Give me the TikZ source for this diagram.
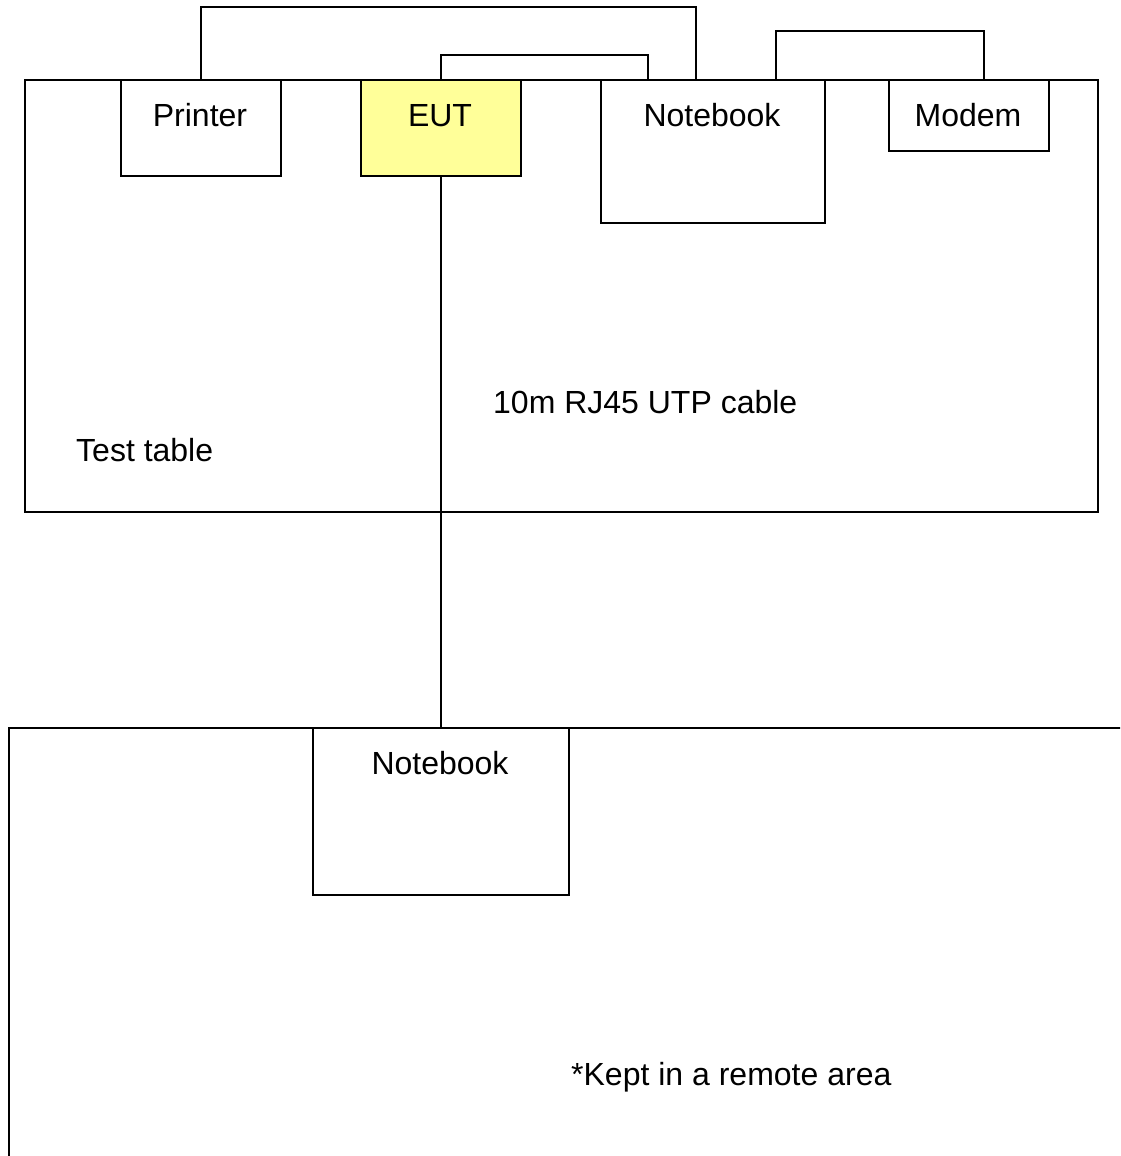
\documentclass[tikz,border=0pt]{standalone}
\usepackage{fontspec}
\setmainfont{Liberation Sans}
\definecolor{eutyellow}{HTML}{FFFF99}
\begin{document}
\begin{tikzpicture}[x=1pt,y=-1pt,
  box/.style={draw=black,line width=1.5pt,fill=white,rectangle,inner sep=0pt,anchor=north west},
  txt/.style={font=\fontsize{32}{38}\selectfont,inner sep=0pt,anchor=base},
  ltxt/.style={txt,anchor=base west},
  wire/.style={draw=black,line width=1.5pt}]
\useasboundingbox (0,0) rectangle (1120,1156);
\clip (0,0) rectangle (1120,1156);
\fill[white] (0,0) rectangle (1120,1156);
% test table
\node[box,minimum width=1073pt,minimum height=432pt] (table) at (24,79) {};
% remote area
\node[box,minimum width=1140pt,minimum height=460pt] (remote) at (8,727) {};
% devices
\node[box,minimum width=160pt,minimum height=96pt] (printer) at (120,79) {};
\node[box,fill=eutyellow,minimum width=160pt,minimum height=96pt] (eut) at (360,79) {};
\node[box,minimum width=224pt,minimum height=143pt] (nbA) at (600,79) {};
\node[box,minimum width=160pt,minimum height=71pt] (modem) at (888,79) {};
\node[box,minimum width=256pt,minimum height=167pt] (nbB) at (312,727) {};
% labels
\node[txt] (printerlbl) at (200,126) {Printer};
\node[txt] (eutlbl) at (440,126) {EUT};
\node[txt] (nbAlbl) at (712,126) {Notebook};
\node[txt] (modemlbl) at (968,126) {Modem};
\node[txt] (nbBlbl) at (440,774) {Notebook};
\node[ltxt] (tablelbl) at (76,461) {Test table};
\node[ltxt] (cablelbl) at (493,413) {10m RJ45 UTP cable};
\node[ltxt] (remotelbl) at (571,1085) {*Kept in a remote area};
% cables
\draw[wire] (printer.north) -- ++(0,-72) -| ([xshift=96pt]nbA.north west);
\draw[wire] (eut.north) -- ++(0,-24) -| ([xshift=48pt]nbA.north west);
\draw[wire] ([xshift=176pt]nbA.north west) -- ++(0,-48) -| ([xshift=96pt]modem.north west);
\draw[wire] (eut.south) -- (nbB.north);
\end{tikzpicture}
\end{document}
